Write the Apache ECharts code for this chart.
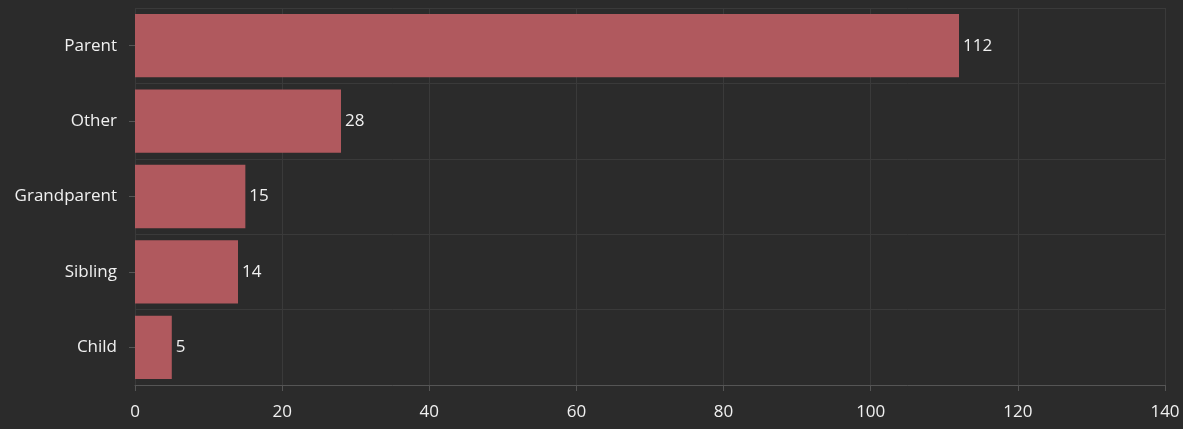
<!DOCTYPE html>
<html>
<head>
<meta charset="utf-8">
<script src="https://cdn.jsdelivr.net/npm/echarts@6/dist/echarts.min.js"></script>
<style>
  html, body { margin: 0; padding: 0; background: #2b2b2b; }
  #chart { width: 1183px; height: 429px; }
</style>
</head>
<body>
<div id="chart"></div>
<script>
// categories listed bottom to top (category axis starts at the bottom)
var categories = ['Child', 'Sibling', 'Grandparent', 'Other', 'Parent'];
var counts = [5, 14, 15, 28, 112];
var xTicks = [0, 20, 40, 60, 80, 100, 120, 140];

var chart = echarts.init(document.getElementById('chart'));

var option = {
    backgroundColor: '#2b2b2b',
    textStyle: { fontFamily: 'Open Sans' },
    grid: { left: 135, right: 18, top: 8, bottom: 44 },
    xAxis: {
        type: 'value',
        min: xTicks[0],
        max: xTicks[xTicks.length - 1],
        interval: 20,
        axisLine: { show: true, lineStyle: { color: '#555' } },
        axisTick: { show: true, length: 6, lineStyle: { color: '#555' } },
        axisLabel: { color: '#f0f0f0', fontSize: 17, margin: 19 },
        splitLine: { show: true, lineStyle: { color: '#3a3a3a' } }
    },
    yAxis: {
        type: 'category',
        data: categories,
        axisLine: { show: false },
        axisTick: { show: true, length: 6, alignWithLabel: true, lineStyle: { color: '#555' } },
        axisLabel: { color: '#f0f0f0', fontSize: 17, margin: 18 },
        splitLine: { show: true, lineStyle: { color: '#3a3a3a' } }
    },
    series: [{
        type: 'bar',
        data: counts,
        barCategoryGap: '16%',
        itemStyle: { color: '#b0595e' },
        label: {
            show: true,
            position: 'right',
            distance: 4,
            color: '#f0f0f0',
            fontSize: 17
        }
    }]
};

chart.setOption(option);
</script>
</body>
</html>
